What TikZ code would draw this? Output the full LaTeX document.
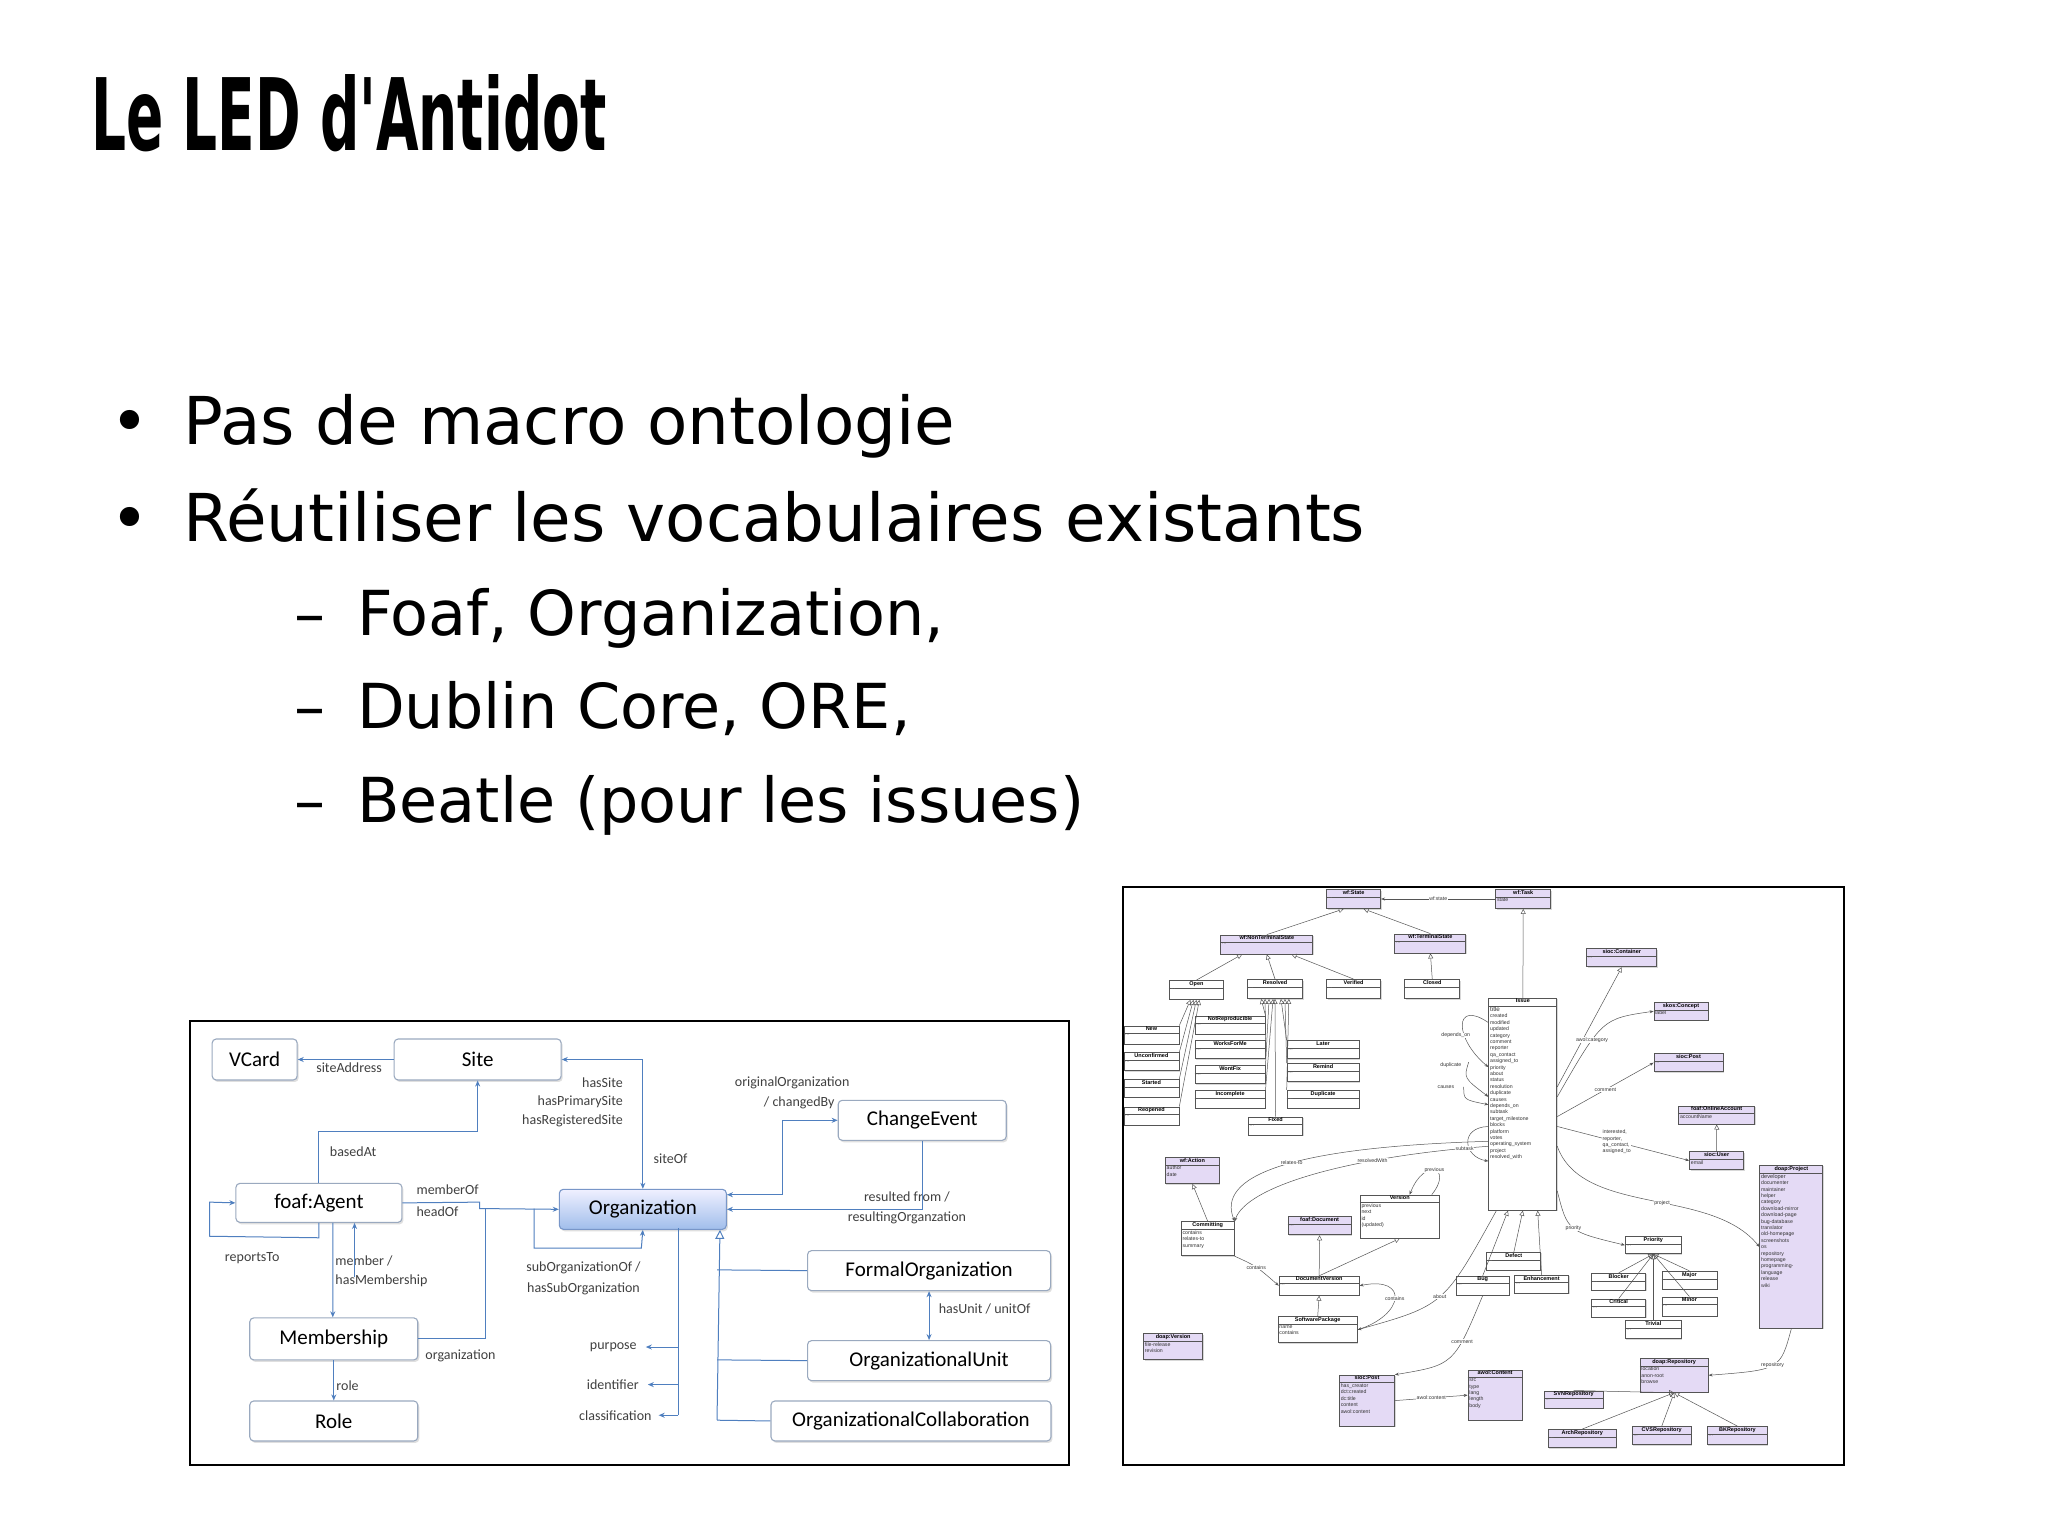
\documentclass[tikz,border=0pt]{standalone}
\usepackage{fontspec}
\setmainfont{DejaVu Sans}
\newfontfamily\titlefont{DejaVu Sans Bold}[FakeStretch=0.55]
\newfontfamily\carl{Carlito}
\newfontfamily\helv{Liberation Sans}
\usetikzlibrary{arrows.meta,calc,shadows}
\definecolor{bordc}{HTML}{9AA9BF}
\definecolor{linec}{HTML}{4F7FBF}
\definecolor{pu}{HTML}{E4DAF5}
\definecolor{uml}{HTML}{555555}
\tikzset{
 lb/.style={draw=bordc, line width=1.1pt, rounded corners=4pt, fill=white, inner sep=0,
   drop shadow={opacity=0.25, shadow xshift=1.5pt, shadow yshift=-2pt},
   font=\carl\fontsize{21}{21}\selectfont},
 ll/.style={font=\carl\fontsize{14}{14}\selectfont, text=black!75, inner sep=1pt},
 lc/.style={draw=linec, line width=1pt},
 la/.style={lc, -{Stealth[length=6pt,width=5pt]}},
 lab/.style={lc, {Stealth[length=6pt,width=5pt]}-{Stealth[length=6pt,width=5pt]}},
 lg/.style={lc, -{Triangle[open,length=9pt,width=9pt]}},
 ub/.style={draw=uml, line width=0.8pt, inner sep=0, drop shadow={opacity=0.3, shadow xshift=1pt, shadow yshift=-1pt}},
 ut/.style={font=\helv\bfseries\fontsize{5.5}{6}\selectfont, inner sep=1pt},
 ua/.style={font=\helv\fontsize{5.2}{6.4}\selectfont, align=left, inner sep=0, text=black!80},
 ubl/.style={draw=uml, line width=0.5pt},
 uc/.style={draw=uml, line width=0.5pt},
 uar/.style={uc, -{Stealth[length=4pt,width=3pt]}},
 ug/.style={uc, -{Triangle[open,length=5pt,width=5pt]}},
 ul/.style={font=\helv\fontsize{5.2}{6.2}\selectfont, inner sep=0.5pt, fill=white, align=left, text=black!80},
 bul/.style={font=\fontsize{66}{70}\selectfont, anchor=base west, inner sep=0},
 subl/.style={font=\fontsize{62}{66}\selectfont, anchor=base west, inner sep=0},
}
\newcommand\umlb[8]{%
 \node[ub, fill=#6, minimum width=#4pt, minimum height=#5pt, anchor=north west] (#1) at (#2,#3) {};
 \node[ut, anchor=north] at (#1.north) {#7};
 \draw[ubl] ($(#1.north west)+(0,8)$) -- ($(#1.north east)+(0,8)$);
 \node[ua, anchor=north west] at ($(#1.north west)+(1.5,9)$) {#8};
}
\newcommand\udots{\textcolor{gray}{...}}
\begin{document}
\begin{tikzpicture}[x=0.989pt,y=-0.989pt]
\useasboundingbox[fill=white] (0,0) rectangle (2070.8,1552);
% title
\node[anchor=base west, inner sep=0, font=\titlefont\fontsize{100}{100}\selectfont] (title) at (92,152) {Le LED d'Antidot};
% bullets
\node[bul] (b1) at (112,449) {•};
\node[bul] (t1) at (185,449) {Pas de macro ontologie};
\node[bul] (b2) at (112,548) {•};
\node[bul] (t2) at (185,548) {Réutiliser les vocabulaires existants};
\node[subl] (d1) at (298,643) {–};
\node[subl] (s1) at (361,643) {Foaf, Organization,};
\node[subl] (d2) at (298,737) {–};
\node[subl] (s2) at (361,737) {Dublin Core, ORE,};
\node[subl] (d3) at (298,832) {–};
\node[subl] (s3) at (361,832) {Beatle (pour les issues)};
% frames
\draw[line width=2pt] (192,1032) rectangle (1081,1481);
\draw[line width=2pt] (1135,897) rectangle (1865,1481);
% ===== left diagram
\node[lb, minimum width=85pt, minimum height=41pt, anchor=north west] (vcard) at (214,1050) {VCard};
\node[lb, minimum width=167pt, minimum height=41pt, anchor=north west] (site) at (398,1050) {Site};
\node[lb, minimum width=166pt, minimum height=39pt, anchor=north west] (agent) at (238,1196) {foaf:Agent};
\node[lb, minimum width=167pt, minimum height=40pt, anchor=north west, top color=blue!6, bottom color={rgb,255:red,160;green,190;blue,235}, draw={rgb,255:red,120;green,150;blue,200}] (org) at (565,1202) {Organization};
\node[lb, minimum width=168pt, minimum height=40pt, anchor=north west] (chev) at (847,1112) {ChangeEvent};
\node[lb, minimum width=243pt, minimum height=40pt, anchor=north west] (formal) at (816,1264) {FormalOrganization};
\node[lb, minimum width=243pt, minimum height=40pt, anchor=north west] (unit) at (816,1355) {OrganizationalUnit};
\node[lb, minimum width=280pt, minimum height=40pt, anchor=north west] (collab) at (779,1416) {OrganizationalCollaboration};
\node[lb, minimum width=168pt, minimum height=42pt, anchor=north west] (memb) at (252,1332) {Membership};
\node[lb, minimum width=168pt, minimum height=40pt, anchor=north west] (role) at (252,1416) {Role};
% left labels
\node[ll] (l1) at (353,1080) {siteAddress};
\node[ll, anchor=east] (l2) at (631,1095) {hasSite};
\node[ll, anchor=east] (l3) at (631,1114) {hasPrimarySite};
\node[ll, anchor=east] (l4) at (631,1133) {hasRegisteredSite};
\node[ll] (l5) at (801,1095) {originalOrganization};
\node[ll, anchor=east] (l6) at (845,1115) {/ changedBy};
\node[ll] (l7) at (357,1164) {basedAt};
\node[ll] (l8) at (678,1172) {siteOf};
\node[ll, anchor=west] (l9) at (420,1203) {memberOf};
\node[ll, anchor=west] (l10) at (420,1225) {headOf};
\node[ll] (l11) at (917,1210) {resulted from /};
\node[ll] (l12) at (917,1231) {resultingOrganzation};
\node[ll] (l13) at (255,1272) {reportsTo};
\node[ll, anchor=west] (l14) at (338,1275) {member /};
\node[ll, anchor=west] (l15) at (338,1295) {hasMembership};
\node[ll] (l16) at (590,1282) {subOrganizationOf /};
\node[ll] (l17) at (590,1303) {hasSubOrganization};
\node[ll, anchor=west] (l18) at (948,1324) {hasUnit / unitOf};
\node[ll, anchor=west] (l19) at (429,1371) {organization};
\node[ll, anchor=east] (purp) at (645,1362) {purpose};
\node[ll, anchor=east] (ident) at (647,1400) {identifier};
\node[ll, anchor=east] (classif) at (660,1431) {classification};
\node[ll, anchor=west] (l20) at (339,1401) {role};
% left connectors
\draw[la] (site.west) -- (vcard.east);
\draw[lab] (site.east) -| (org.north);
\draw[la] (agent.north) |- ($(site.south)+(0,52)$) -- (site.south);
\draw[la] (agent.south) -- ++(0,15) -- (212,1250) -- (212,1215.5) -- (agent.west);
\draw[la] ($(agent.south)+(36,55)$) -- ($(agent.south)+(36,0)$);
\draw[la] ($(agent.south)+(14,0)$) -- ($(memb.north)+(-1,0)$);
\draw[la] (agent.east) -- (485,1215.5) -- (485,1222) -- (org.west);
\draw[lc] (memb.east) -| (491,1222);
\draw[la] (540,1222) -- (540,1262) -- (648.5,1262) -- (org.south);
\draw[lab] ($(org.north east)+(0,6)$) -- (791,1208) |- (chev.west);
\draw[la] (chev.south) |- (org.east);
\draw[lg] (725,1436) -- ($(org.south east)+(-7,0)$);
\draw[lc] (725,1284) -- (formal.west);
\draw[lc] (725,1375) -- (unit.west);
\draw[lc] (725,1436) -- (collab.west);
\draw[lc] (686,1242) -- (686,1431);
\draw[la] (686,1362) -- ($(purp.east)+(8,0)$);
\draw[la] (686,1400) -- ($(ident.east)+(8,0)$);
\draw[la] (686,1431) -- ($(classif.east)+(6,0)$);
\draw[lab] (formal.south) -- (unit.north);
\draw[la] (memb.south) -- (role.north);
% ===== right diagram
\umlb{wfstate}{1341}{899}{54}{19}{pu}{wf:State}{\udots}
\umlb{wftask}{1512}{899}{55}{19}{pu}{wf:Task}{state}
\umlb{nonterm}{1234}{945}{92}{19}{pu}{wf:NonTerminalState}{\udots}
\umlb{term}{1410}{944}{71}{19}{pu}{wf:TerminalState}{\udots}
\umlb{open}{1182}{991}{54}{19}{white}{Open}{\udots}
\umlb{resolved}{1261}{990}{55}{19}{white}{Resolved}{\udots}
\umlb{verified}{1341}{990}{54}{19}{white}{Verified}{\udots}
\umlb{closed}{1420}{990}{55}{19}{white}{Closed}{\udots}
\umlb{container}{1604}{959}{70}{18}{pu}{sioc:Container}{\udots}
\umlb{skos}{1672}{1013}{54}{18}{pu}{skos:Concept}{label}
\umlb{siocpost}{1672}{1065}{69}{18}{pu}{sioc:Post}{\udots}
\umlb{online}{1697}{1118}{76}{18}{pu}{foaf:OnlineAccount}{accountName}
\umlb{user}{1708}{1164}{54}{18}{pu}{sioc:User}{email}
\umlb{new}{1136}{1037}{55}{18}{white}{New}{\udots}
\umlb{unconf}{1136}{1064}{55}{18}{white}{Unconfirmed}{\udots}
\umlb{started}{1136}{1091}{55}{18}{white}{Started}{\udots}
\umlb{reopened}{1136}{1119}{55}{18}{white}{Reopened}{\udots}
\umlb{notrep}{1208}{1027}{70}{18}{white}{NotReproducible}{\udots}
\umlb{works}{1208}{1052}{70}{18}{white}{WorksForMe}{\udots}
\umlb{wont}{1208}{1077}{70}{18}{white}{WontFix}{\udots}
\umlb{incompl}{1208}{1102}{70}{18}{white}{Incomplete}{\udots}
\umlb{fixed}{1262}{1129}{54}{18}{white}{Fixed}{\udots}
\umlb{later}{1301}{1052}{72}{18}{white}{Later}{\udots}
\umlb{remind}{1301}{1075}{72}{18}{white}{Remind}{\udots}
\umlb{dupl}{1301}{1102}{72}{18}{white}{Duplicate}{\udots}
\umlb{issue}{1505}{1009}{68}{212}{white}{Issue}{\fontsize{6.3}{8.45}\selectfont title\\created\\modified\\updated\\category\\comment\\reporter\\qa\_contact\\assigned\_to\\priority\\about\\status\\resolution\\duplicate\\causes\\depends\_on\\subtask\\target\_milestone\\blocks\\platform\\votes\\operating\_system\\project\\resolved\_with}
\umlb{project}{1779}{1178}{63}{163}{pu}{doap:Project}{\fontsize{5.6}{8.4}\selectfont developer\\documenter\\maintainer\\helper\\category\\download-mirror\\download-page\\bug-database\\translator\\old-homepage\\screenshots\\os\\repository\\homepage\\programming-\\language\\release\\wiki}
\umlb{action}{1178}{1170}{54}{26}{pu}{wf:Action}{author\\date}
\umlb{commit}{1194}{1235}{53}{34}{white}{Committing}{contains\\relates-to\\summary}
\umlb{fdoc}{1302}{1230}{63}{18}{pu}{foaf:Document}{\udots}
\umlb{version}{1375}{1208}{79}{43}{white}{Version}{previous\\next\\id\\(updated)}
\umlb{docver}{1293}{1290}{80}{19}{white}{DocumentVersion}{\udots}
\umlb{softpkg}{1292}{1331}{79}{26}{white}{SoftwarePackage}{name\\contains}
\umlb{defect}{1503}{1266}{54}{18}{white}{Defect}{\udots}
\umlb{bug}{1472}{1290}{53}{19}{white}{Bug}{\udots}
\umlb{enh}{1531}{1289}{54}{18}{white}{Enhancement}{\udots}
\umlb{prio}{1643}{1250}{56}{17}{white}{Priority}{\udots}
\umlb{blocker}{1609}{1287}{54}{17}{white}{Blocker}{\udots}
\umlb{major}{1680}{1285}{55}{18}{white}{Major}{\udots}
\umlb{critical}{1609}{1313}{54}{18}{white}{Critical}{\udots}
\umlb{minor}{1680}{1311}{55}{19}{white}{Minor}{\udots}
\umlb{trivial}{1643}{1335}{56}{18}{white}{Trivial}{\udots}
\umlb{doapver}{1156}{1348}{59}{26}{pu}{doap:Version}{file-release\\revision}
\umlb{repo}{1658}{1373}{68}{34}{pu}{doap:Repository}{location\\anon-root\\browse}
\umlb{post2}{1354}{1390}{55}{51}{pu}{sioc:Post}{has\_creator\\dct:created\\dc:title\\content\\awol:content}
\umlb{awol}{1484}{1385}{54}{50}{pu}{awol:Content}{src\\type\\lang\\length\\body}
\umlb{svn}{1561}{1406}{59}{17}{pu}{SVNRepository}{\udots}
\umlb{arch}{1565}{1445}{68}{18}{pu}{ArchRepository}{\udots}
\umlb{cvs}{1650}{1442}{59}{18}{pu}{CVSRepository}{\udots}
\umlb{bk}{1726}{1442}{60}{18}{pu}{BKRepository}{\udots}
% right connectors
\draw[uar] (wftask.west) -- node[ul]{wf:state} (wfstate.east);
\draw[ug] (nonterm.north) -- ($(wfstate.south)+(-10,0)$);
\draw[ug] (term.north) -- ($(wfstate.south)+(10,0)$);
\draw[ug] (open.north) -- ($(nonterm.south)+(-25,0)$);
\draw[ug] (resolved.north) -- (nonterm.south);
\draw[ug] (verified.north) -- ($(nonterm.south)+(25,0)$);
\draw[ug] (closed.north) -- (term.south);
\foreach \n/\d in {new/-6,unconf/-3,started/0,reopened/3} \draw[ug] (\n.north east) -- ($(open.south)+(\d,0)$);
\foreach \n/\d in {notrep/-14,works/-10,wont/-6,incompl/-2} \draw[ug] (\n.north east) -- ($(resolved.south)+(\d,0)$);
\draw[ug] (fixed.north) -- (resolved.south);
\foreach \n/\d in {later/6,remind/10,dupl/14} \draw[ug] (\n.north west) -- ($(resolved.south)+(\d,0)$);
\draw[ug] (issue.north) -- (wftask.south);
\draw[ug] ($(issue.north east)+(0,90)$) -- (container.south);
\draw[uar] ($(issue.north east)+(0,100)$) .. controls (1620,1030) .. node[ul, pos=0.35]{awol:category} (skos.west);
\draw[uar] ($(issue.north east)+(0,120)$) -- node[ul]{comment} (siocpost.west);
\draw[uar] ($(issue.north east)+(0,130)$) -- node[ul, pos=0.45]{interested,\\reporter,\\qa\_contact,\\assigned\_to} (user.west);
\draw[ug] (user.north) -- (online.south);
\draw[uar] ($(issue.north east)+(0,150)$) .. controls (1600,1230) and (1730,1200) .. node[ul, pos=0.55]{project} (project.west);
\draw[uar] ($(issue.south east)+(0,-20)$) .. controls (1585,1245) .. node[ul]{priority} (prio.west);
\foreach \n in {blocker,major,critical,minor,trivial} \draw[ug] (\n.north) -- (prio.south);
\draw[uar] ($(issue.north west)+(0,145)$) .. controls (1300,1160) and (1230,1190) .. node[ul, pos=0.45]{relates-to} (commit.north east);
\draw[uar] ($(issue.north west)+(0,150)$) .. controls (1360,1170) and (1260,1200) .. node[ul, pos=0.3]{resolvedWith} (commit.north east);
\draw[ug] (commit.north) -- (action.south);
\draw[uar] (commit.south east) .. controls (1270,1280) .. node[ul]{contains} (docver.west);
\draw[ug] (docver.north) -- (fdoc.south);
\draw[ug] (docver.north) -- (version.south);
\draw[ug] (softpkg.north) -- (docver.south);
\draw[uar] (softpkg.east) .. controls (1420,1330) and (1425,1290) .. node[ul]{contains} (docver.east);
\draw[uar] ($(version.north east)+(-8,0)$) .. controls (1470,1180) and (1440,1170) .. node[ul]{previous} ($(version.north)+(10,0)$);
\foreach \n/\d in {bug/-15,defect/0,enh/15} \draw[ug] (\n.north) -- ($(issue.south)+(\d,0)$);
\draw[uar] ($(issue.south west)+(8,0)$) .. controls (1460,1320) .. node[ul]{about} (softpkg.east);
\draw[uar] (bug.south) .. controls (1470,1380) .. node[ul, pos=0.3]{comment} (post2.north east);
\draw[uar] (post2.east) -- node[ul]{awol:content} (awol.west);
\draw[uar] (project.south) .. controls (1800,1385) .. node[ul]{repository} (repo.east);
\foreach \n in {svn,arch,cvs,bk} \draw[ug] (\n.north) -- (repo.south);
\draw[uar] ($(issue.north west)+(0,25)$) .. controls (1470,1010) and (1470,1050) .. ($(issue.north west)+(0,70)$);
\node[ul] (dep) at (1472,1047) {depends\_on};
\draw[uar] ($(issue.north west)+(-20,65)$) .. controls (1480,1090) .. ($(issue.north west)+(0,100)$);
\node[ul] (dup) at (1467,1077) {duplicate};
\draw[uar] ($(issue.north west)+(-25,90)$) .. controls (1480,1112) .. ($(issue.north west)+(0,108)$);
\node[ul] (cau) at (1462,1099) {causes};
\draw[uar] ($(issue.north west)+(0,130)$) .. controls (1475,1140) and (1480,1170) .. ($(issue.north west)+(0,165)$);
\node[ul] (sub) at (1481,1161) {subtask};
\end{tikzpicture}
\end{document}
